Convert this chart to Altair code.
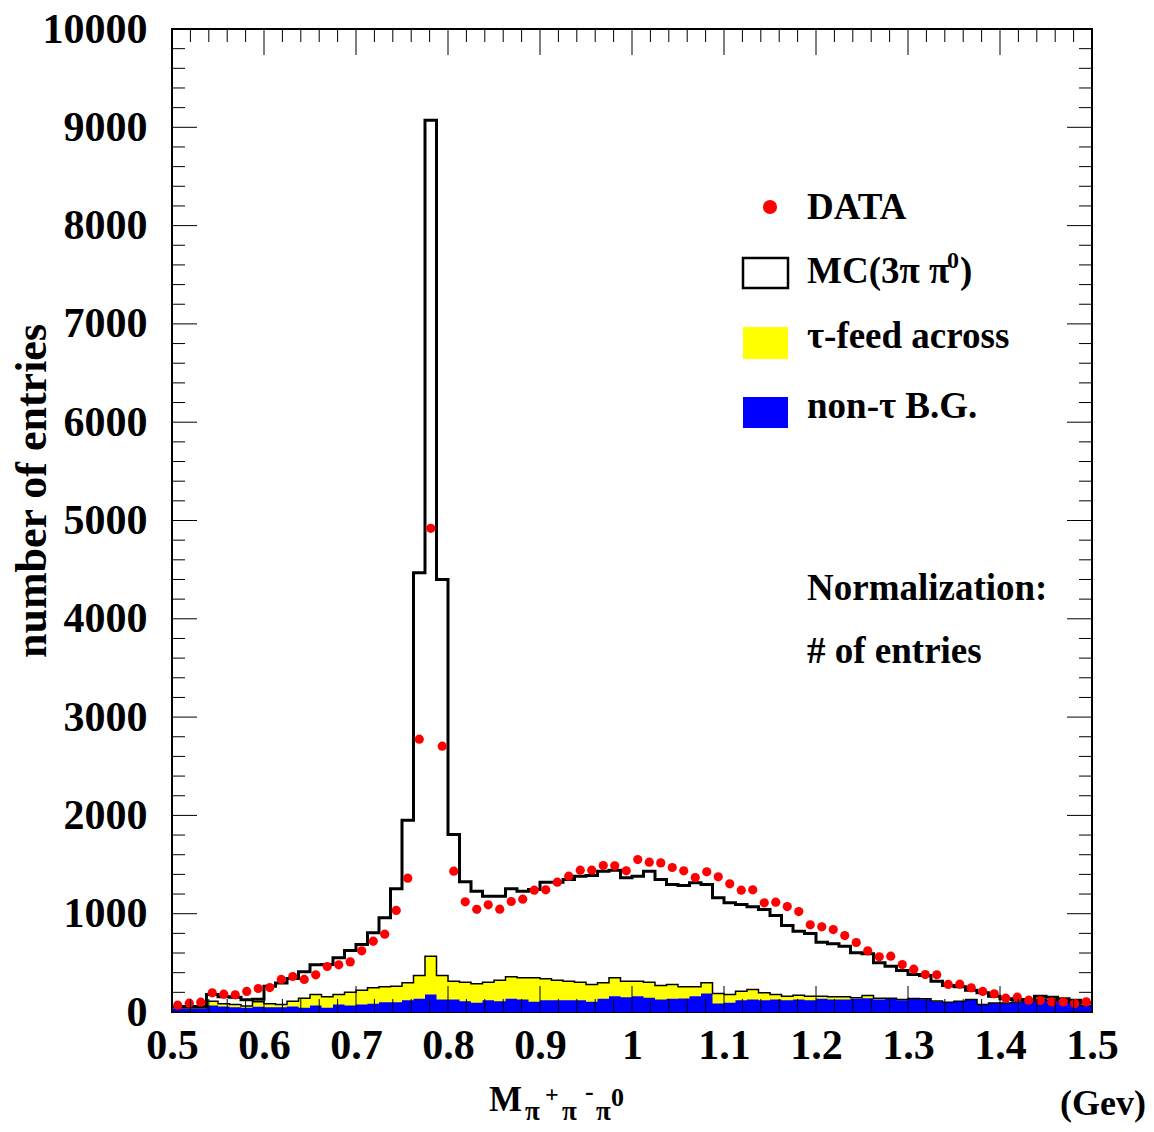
import altair as alt
import pandas as pd
import numpy as np

# ---------------- data ----------------
X_MIN, X_MAX, N_BINS = 0.5, 1.5, 80

data_vals = [69, 90, 100, 195, 181, 175, 209, 239, 249, 331,
             361, 331, 378, 463, 480, 510, 622, 720, 792, 1033,
             1361, 2775, 4920, 2704, 1433, 1121, 1045, 1090, 1046, 1124,
             1148, 1239, 1243, 1321, 1382, 1443, 1443, 1490, 1487, 1436,
             1551, 1524, 1517, 1470, 1436, 1368, 1426, 1375, 1304, 1239,
             1243, 1111, 1117, 1073, 1022, 887, 867, 839, 778, 707,
             622, 561, 568, 483, 436, 381, 378, 280, 283, 246,
             209, 185, 141, 151, 120, 117, 103, 103, 86, 103]

mc_vals = [56, 56, 56, 178, 155, 150, 125, 130, 263, 295,
           340, 410, 480, 483, 551, 626, 687, 805, 958, 1253,
           1951, 4468, 9072, 4400, 1806, 1324, 1229, 1178, 1178, 1253,
           1229, 1246, 1321, 1321, 1348, 1382, 1389, 1433, 1443, 1365,
           1382, 1433, 1348, 1297, 1287, 1314, 1297, 1161, 1111, 1094,
           1070, 1043, 982, 880, 822, 799, 710, 694, 669, 602,
           592, 500, 466, 422, 381, 371, 313, 270, 256, 222,
           195, 161, 134, 127, 127, 161, 151, 134, 120, 94]

# tau feed-across stacked on top of non-tau background
feed_stack_vals = [43, 43, 43, 110, 83, 77, 61, 105, 83, 77,
                   110, 140, 178, 155, 178, 202, 222, 246, 256, 263,
                   297, 371, 568, 371, 313, 303, 287, 303, 324, 358,
                   348, 348, 338, 324, 313, 303, 280, 297, 348, 313,
                   313, 303, 270, 280, 256, 256, 297, 188, 178, 212,
                   229, 195, 178, 161, 171, 161, 161, 154, 155, 144,
                   167, 140, 140, 127, 137, 134, 113, 99, 109, 127,
                   76, 92, 92, 103, 109, 127, 120, 109, 92, 66]

nontau_vals = [36, 36, 36, 66, 56, 49, 43, 53, 49, 49,
               56, 43, 66, 43, 76, 66, 76, 83, 100, 100,
               120, 134, 178, 127, 127, 110, 94, 120, 110, 134,
               127, 104, 120, 120, 120, 120, 104, 134, 161, 150,
               161, 144, 127, 134, 137, 161, 188, 86, 94, 120,
               127, 120, 127, 120, 127, 120, 134, 127, 127, 134,
               140, 127, 134, 120, 132, 130, 108, 95, 104, 122,
               72, 88, 88, 98, 104, 122, 115, 104, 88, 62]

x_tick_labels = [0.5, 0.6, 0.7, 0.8, 0.9, 1.0, 1.1, 1.2, 1.3, 1.4, 1.5]
y_tick_labels = [0, 1000, 2000, 3000, 4000, 5000, 6000, 7000, 8000, 9000, 10000]

# ---------------- layout ----------------
W, H = 920, 983
OX, OY = 172, 29          # page position of plot-area origin
FONT = "Liberation Serif"

bw = (X_MAX - X_MIN) / N_BINS
lefts = [X_MIN + i * bw for i in range(N_BINS)]
centers = [l + bw / 2 for l in lefts]


def step_df(vals):
    return pd.DataFrame({"x": lefts + [X_MAX], "y": list(vals) + [vals[-1]]})


xs = alt.Scale(domain=[X_MIN, X_MAX], nice=False, zero=False)
ys = alt.Scale(domain=[0, 10000], nice=False)

x_axis = alt.Axis(values=x_tick_labels, format=".1~f", labelFont=FONT,
                  labelFontWeight="bold", labelFontSize=42, labelColor="black",
                  ticks=False, domain=False, grid=False, title=None,
                  labelPadding=13, labelFlush=False, labelOverlap=False)
y_axis = alt.Axis(values=y_tick_labels, format="d", labelFont=FONT,
                  labelFontWeight="bold", labelFontSize=42, labelColor="black",
                  ticks=False, domain=False, grid=False, title=None,
                  labelPadding=25, labelFlush=False, labelOverlap=False)


def X(field):
    return alt.X(field, scale=xs, axis=x_axis)


def Y(field):
    return alt.Y(field, scale=ys, axis=y_axis)


yellow = alt.Chart(step_df(feed_stack_vals)).mark_area(
    interpolate="step-after", color="#ffff00").encode(x=X("x:Q"), y=Y("y:Q"))

blue = alt.Chart(step_df(nontau_vals)).mark_area(
    interpolate="step-after", color="#0000ff").encode(x=X("x:Q"), y=Y("y:Q"))

yellow_line = alt.Chart(step_df(feed_stack_vals)).mark_line(
    interpolate="step-after", color="black", strokeWidth=1.5).encode(
    x=X("x:Q"), y=Y("y:Q"))

mc_line = alt.Chart(step_df(mc_vals)).mark_line(
    interpolate="step-after", color="black", strokeWidth=3).encode(
    x=X("x:Q"), y=Y("y:Q"))

points = alt.Chart(pd.DataFrame({"x": centers, "y": data_vals})).mark_circle(
    color="#ff0000", size=85, opacity=1).encode(x=X("x:Q"), y=Y("y:Q"))

# ---------------- inward ticks ----------------
x_major = x_tick_labels
x_minor = [round(v, 3) for v in np.arange(0.5, 1.5001, 0.02)
           if min(abs(v - m) for m in x_major) > 1e-6]
y_major = y_tick_labels
y_minor = [v for v in range(0, 10001, 200) if v % 1000 != 0]

tick_layers = []
for vals, ln in ((x_major, 26), (x_minor, 13)):
    d = pd.DataFrame({"x": vals})
    tick_layers.append(alt.Chart(d).mark_rule(color="black", strokeWidth=1).encode(
        x=X("x:Q"), y=alt.value(H), y2=alt.value(H - ln)))
    tick_layers.append(alt.Chart(d).mark_rule(color="black", strokeWidth=1).encode(
        x=X("x:Q"), y=alt.value(0), y2=alt.value(ln)))
for vals, ln in ((y_major, 25), (y_minor, 13)):
    d = pd.DataFrame({"y": vals})
    tick_layers.append(alt.Chart(d).mark_rule(color="black", strokeWidth=1).encode(
        y=Y("y:Q"), x=alt.value(0), x2=alt.value(ln)))
    tick_layers.append(alt.Chart(d).mark_rule(color="black", strokeWidth=1).encode(
        y=Y("y:Q"), x=alt.value(W), x2=alt.value(W - ln)))


# ---------------- texts ----------------
def txt(s, px, py, size, angle=0, align="left", baseline="alphabetic"):
    kw = dict(font=FONT, fontWeight="bold", fontSize=size, color="black",
              align=align, baseline=baseline)
    if angle:
        kw["angle"] = angle
    return alt.Chart(pd.DataFrame({"t": [s]})).mark_text(**kw).encode(
        x=alt.value(px - OX), y=alt.value(py - OY), text="t:N")


def box(x1, y1, x2, y2, fill, stroke=None, sw=0):
    kw = dict(fill=fill)
    if stroke:
        kw.update(stroke=stroke, strokeWidth=sw)
    return alt.Chart(pd.DataFrame({"a": [0]})).mark_rect(**kw).encode(
        x=alt.value(x1 - OX), x2=alt.value(x2 - OX),
        y=alt.value(y1 - OY), y2=alt.value(y2 - OY))


legend_dot = alt.Chart(pd.DataFrame({"a": [0]})).mark_circle(
    color="#ff0000", size=200, opacity=1).encode(
    x=alt.value(770 - OX), y=alt.value(207 - OY))

texts = [
    legend_dot,
    txt("DATA", 807, 219, 37),
    box(743, 258, 788, 288, "white", "black", 2.5),
    txt("MC(3π π", 807, 283, 37),
    txt("0", 947, 268, 24),
    txt(")", 960, 283, 37),
    box(743, 327, 788, 359, "#ffff00"),
    txt("τ-feed across", 807, 348, 37),
    box(743, 397, 788, 428, "#0000ff"),
    txt("non-τ B.G.", 807, 418, 37),
    txt("Normalization:", 807, 600, 37),
    txt("# of entries", 807, 663, 37),
    txt("number of entries", 33, 491, 44, angle=270, align="center", baseline="middle"),
    txt("M", 489, 1111, 35),
    txt("π", 525, 1120, 27),
    txt("+", 545, 1102, 24),
    txt("π", 562, 1120, 27),
    txt("-", 585, 1100, 26),
    txt("π", 596, 1120, 27),
    txt("0", 611, 1106, 26),
    txt("(Gev)", 1060, 1115, 36),
]

chart = alt.layer(
    yellow, blue, yellow_line, mc_line, points, *tick_layers, *texts
).properties(
    width=W, height=H,
    autosize=alt.AutoSizeParams(type="none"),
    padding={"left": OX - 8, "top": OY - 8, "right": 54, "bottom": 111},
    background="white",
).configure_view(stroke="black", strokeWidth=2)

chart.save("out.html", embed_options={"renderer": "svg", "actions": False})
